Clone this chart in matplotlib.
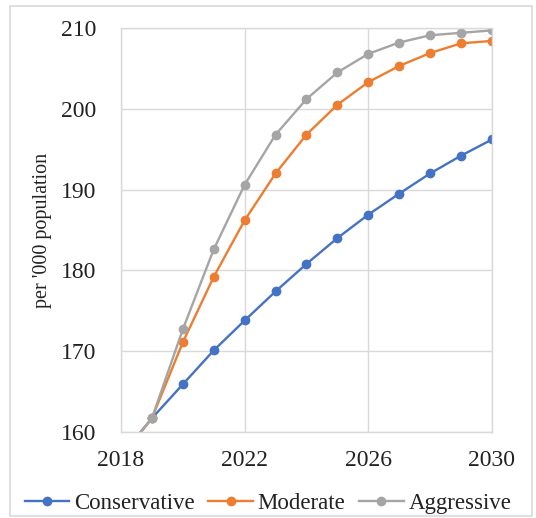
import matplotlib.pyplot as plt
from matplotlib.patches import Rectangle

years = list(range(2018, 2031))
conservative = [157.0, 161.7, 165.9, 170.1, 173.8, 177.4, 180.8, 184.0, 186.9, 189.5, 192.0, 194.2, 196.2]
moderate = [157.0, 161.7, 171.1, 179.2, 186.2, 192.0, 196.8, 200.5, 203.3, 205.3, 206.9, 208.1, 208.4]
aggressive = [157.0, 161.7, 172.7, 182.6, 190.6, 196.8, 201.2, 204.5, 206.8, 208.2, 209.1, 209.4, 209.7]

series_names = ["Conservative", "Moderate", "Aggressive"]
series_colors = ["#4472C4", "#ED7D31", "#A5A5A5"]
x_ticks = [2018, 2022, 2026, 2030]
y_ticks = [160, 170, 180, 190, 200, 210]

plt.rcParams['font.family'] = ['Liberation Serif', 'DejaVu Serif']

fig = plt.figure(figsize=(5.36, 5.18), dpi=100)
ax = fig.add_axes([0.2257, 0.166, 0.6922, 0.780])

# thin grey frame round the whole chart
fig.patches.append(Rectangle((10 / 536, 2 / 518), 522 / 536, 510 / 518,
                             transform=fig.transFigure, fill=False,
                             edgecolor="#d9d9d9", linewidth=1.2))

for values, name, color in zip([conservative, moderate, aggressive], series_names, series_colors):
    ax.plot(years, values, color=color, linewidth=1.7, marker="o",
            markersize=6, label=name)

ax.set_xlim(2018, 2030)
ax.set_ylim(160, 210)
ax.set_xticks(x_ticks)
ax.set_yticks(y_ticks)
ax.tick_params(axis="both", length=0, labelsize=17, colors="#222222")
ax.tick_params(axis="y", pad=18)
ax.tick_params(axis="x", pad=13)
ax.grid(True, color="#d9d9d9", linewidth=1)
ax.set_axisbelow(True)
for spine in ax.spines.values():
    spine.set_color("#d9d9d9")
    spine.set_linewidth(1)

ax.set_ylabel("per '000 population", fontsize=14.5, color="#222222", labelpad=6)

ax.legend(loc="center", bbox_to_anchor=(268 / 536, 15 / 518),
          bbox_transform=fig.transFigure, ncol=3, frameon=False,
          fontsize=16.5, handlelength=1.95, handletextpad=0.2,
          columnspacing=0.6, labelcolor="#222222")

plt.savefig("out.png", dpi=100)
